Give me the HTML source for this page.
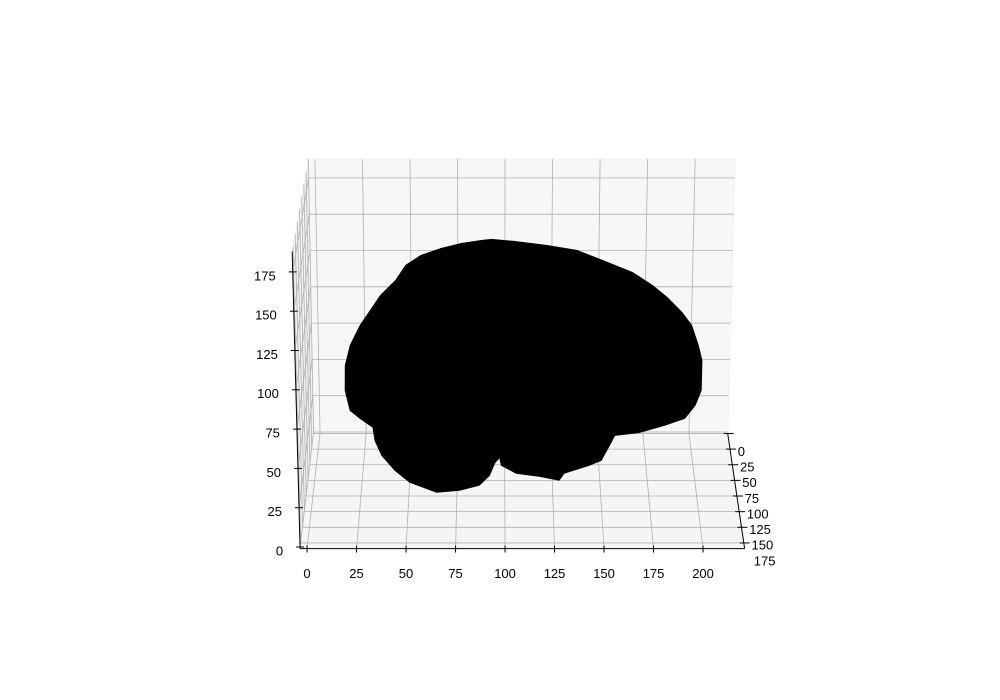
<!DOCTYPE html>
<html><head><meta charset="utf-8"><style>
html,body{margin:0;padding:0;background:#fff;}
svg{display:block;font-family:"Liberation Sans","DejaVu Sans",sans-serif;}
</style></head><body>
<svg id="chart" width="1000" height="700" viewBox="0 0 1000 700" xmlns="http://www.w3.org/2000/svg">
<rect width="1000" height="700" fill="#fff"/>
<g id="panes"></g><g id="grid"></g><g id="brain"></g><g id="axes"></g>
</svg>
<script>
const xTicks = [0,25,50,75,100,125,150,175,200];
const yTicks = [0,25,50,75,100,125,150,175];
const zTicks = [0,25,50,75,100,125,150,175];
const brainX = [89.6,94.8,106.3,123.4,139,151.9,167.4,177.7,185.3,193,198,201.4,203.3,202.9,199.7,194.3,183.8,170.7,157.7,155,150.6,144.3,131.1,128.5,118.1,106.1,98.4,97.5,94.8,92.1,86.7,76.3,64.3,50.3,42.7,36,32.6,31.7,25,19.9,17.6,17.9,20.7,26.1,31.5,36.9,44.9,50.3,58.2,68.7,79.2];
const brainZ = [164,164.7,163.4,160.7,157.4,150.8,142.9,134.3,126.3,116.4,107.8,94.6,84.7,64.8,54.9,46.3,41.7,37,35,28.4,18.5,15.2,9.9,5.3,7.9,9.9,15.2,20.5,16.5,8.6,2,-1.3,-2.6,4,11.9,21.8,31.7,40.3,46.3,51.6,64.8,81.3,94.6,107.8,117.7,127.6,137.6,147.5,154.1,158.7,162];
const brainDepth = 90;
const XMIN=-3.5, XMAX=221, YMIN=0, YMAX=184, ZMIN=-1, ZMAX=188;
const NS='http://www.w3.org/2000/svg';
function P(x,y,z){
  const t=(y-YMIN)/(YMAX-YMIN);
  const kb=-0.027+0.066*x/221;
  const xb=320+1.845*x+kb*z, yb=432-1.452*z;
  const xf=307+1.98*x-0.042*z, yf=547-1.572*z;
  return [xb+(xf-xb)*t, yb+(yf-yb)*t];
}
function mk(tag,attrs,parent){const e=document.createElementNS(NS,tag);for(const k in attrs)e.setAttribute(k,attrs[k]);parent.appendChild(e);return e;}
function poly(pts){return pts.map(p=>p[0].toFixed(1)+','+p[1].toFixed(1)).join(' ');}
const panes=document.getElementById('panes'),grid=document.getElementById('grid'),axes=document.getElementById('axes'),brain=document.getElementById('brain');
const back=mk('polygon',{points:poly([P(XMIN,0,ZMIN),P(XMAX,0,ZMIN),P(XMAX,0,ZMAX),P(XMIN,0,ZMAX)]),fill:'#f7f7f7',stroke:'#f0f0f0'},panes);


const floor=mk('polygon',{points:poly([P(XMIN,0,ZMIN),P(XMAX,0,ZMIN),P(XMAX,YMAX,ZMIN),P(XMIN,YMAX,ZMIN)]),fill:'#f5f5f5',stroke:'#f0f0f0'},panes);


const left=mk('polygon',{points:poly([P(XMIN,0,ZMIN),P(XMIN,YMAX,ZMIN),P(XMIN,YMAX,ZMAX),P(XMIN,0,ZMAX)]),fill:'#f2f2f2',stroke:'#f0f0f0'},panes);


function gl(a,b,name){const l=mk('line',{x1:a[0],y1:a[1],x2:b[0],y2:b[1],stroke:'#b0b0b0','stroke-width':0.8},grid);

}
xTicks.forEach(x=>{gl(P(x,0,ZMIN),P(x,0,ZMAX),'grid-x-back');gl(P(x,0,ZMIN),P(x,YMAX,ZMIN),'grid-x-floor');});
yTicks.forEach(y=>{gl(P(XMIN,y,ZMIN),P(XMAX,y,ZMIN),'grid-y-floor');gl(P(XMIN,y,ZMIN),P(XMIN,y,ZMAX),'grid-y-left');});
zTicks.forEach(z=>{gl(P(XMIN,0,z),P(XMAX,0,z),'grid-z-back');gl(P(XMIN,0,z),P(XMIN,YMAX,z),'grid-z-left');});
const bp=brainX.map((x,i)=>P(x,brainDepth,brainZ[i]));
const br=mk('polygon',{points:poly(bp),fill:'#000',stroke:'#000','stroke-width':1},brain);


function al(a,b,name){const l=mk('line',{x1:a[0],y1:a[1],x2:b[0],y2:b[1],stroke:'#000','stroke-width':1},axes);

}
function tx(p,s,anchor,name){const t=mk('text',{x:p[0],y:p[1],'font-size':13,fill:'#000','text-anchor':anchor,'dominant-baseline':'middle'},axes);t.textContent=s;

}
al(P(XMIN,YMAX,ZMIN),P(XMAX,YMAX,ZMIN),'x-axis-line');
al(P(XMAX,0,ZMIN),P(XMAX,YMAX,ZMIN),'y-axis-line');
al(P(XMIN,YMAX,ZMIN),P(XMIN,YMAX,ZMAX),'z-axis-line');
xTicks.forEach(x=>{const p=P(x,YMAX,ZMIN);al([p[0],p[1]-3],[p[0],p[1]+4],'x-tick');tx([p[0],p[1]+26],String(x),'middle','x-tick-label');});
yTicks.forEach(y=>{const p=P(XMAX,y,ZMIN);al([p[0]-4,p[1]],[p[0]+6,p[1]],'y-tick');tx([p[0]+10,p[1]+19],String(y),'start','y-tick-label');});
zTicks.forEach(z=>{const p=P(XMIN,YMAX,z);al([p[0]-4,p[1]],[p[0]+4,p[1]],'z-tick');tx([p[0]-17,p[1]+5],String(z),'end','z-tick-label');});
</script>
</body></html>
